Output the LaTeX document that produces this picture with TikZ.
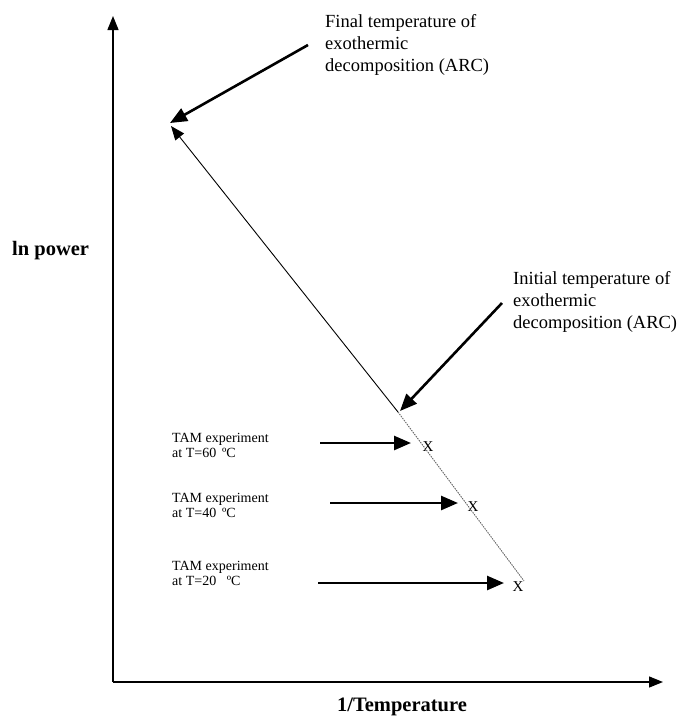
\documentclass[tikz,border=0pt]{standalone}
\usepackage{fontspec}
\setmainfont{Liberation Serif}
\usetikzlibrary{arrows.meta}
\begin{document}
\begin{tikzpicture}[x=1pt,y=-1pt,
  axis/.style={line width=1.3pt, -{Triangle[length=14pt,width=11pt]}},
  bigarrow/.style={line width=2.6pt, -{Triangle[length=17pt,width=14pt]}},
  thinarrow/.style={line width=0.9pt, -{Triangle[length=14pt,width=11pt]}},
  dotline/.style={line width=0.9pt, gray!80!black, dash pattern=on 1.5pt off 1pt},
  lbl/.style={inner sep=0pt, anchor=north west, align=left, font=\fontsize{18.5}{22}\selectfont},
  tam/.style={inner sep=0pt, anchor=north west, align=left, font=\fontsize{14}{15.5}\selectfont},
  xmark/.style={inner sep=0pt, font=\fontsize{15}{15}\selectfont},
  axlabel/.style={inner sep=0pt, anchor=base, font=\bfseries\fontsize{20.5}{24}\selectfont}]
\useasboundingbox (0,0) rectangle (678,718);

% axes
\coordinate (O) at (113,682);
\coordinate (ytop) at (113,16);
\coordinate (xend) at (663,682);
\draw[axis] (O) -- (ytop);
\draw[axis] (O) -- (xend);
\node[axlabel, anchor=base west] (ylab) at (12,255) {ln power};
\node[axlabel] (xlab) at (402,711) {1/Temperature};

% line
\coordinate (J) at (398,412);
\coordinate (top) at (171,126);
\coordinate (bot) at (524,581);
\draw[thinarrow] (J) -- (top);
\draw[dotline] (J) -- (bot);

% X marks
\node[xmark] (x1) at (428,447) {X};
\node[xmark] (x2) at (473,507) {X};
\node[xmark] (x3) at (518,587) {X};

% Final temperature
\node[lbl] (final) at (325,14) {Final temperature of\\exothermic\\decomposition (ARC)};
\coordinate (fs) at (308,45);
\coordinate (fe) at (170,123);
\draw[bigarrow] (fs) -- (fe);

% Initial temperature
\node[lbl] (init) at (513,271) {Initial temperature of\\exothermic\\decomposition (ARC)};
\coordinate (is) at (502,303);
\coordinate (ie) at (400,411);
\draw[bigarrow] (is) -- (ie);

% TAM experiments
\node[tam] (t1) at (172,433) {TAM experiment\\at T=60 \,ºC};
\node[tam] (t2) at (172,493) {TAM experiment\\at T=40 \,ºC};
\node[tam] (t3) at (172,561) {TAM experiment\\at T=20 \ \ ºC};
\coordinate (a1s) at (320,443);
\coordinate (a1e) at (411,443);
\coordinate (a2s) at (330,503);
\coordinate (a2e) at (458,503);
\coordinate (a3s) at (318,583);
\coordinate (a3e) at (504,583);
\draw[bigarrow] (a1s) -- (a1e);
\draw[bigarrow] (a2s) -- (a2e);
\draw[bigarrow] (a3s) -- (a3e);
\end{tikzpicture}
\end{document}
